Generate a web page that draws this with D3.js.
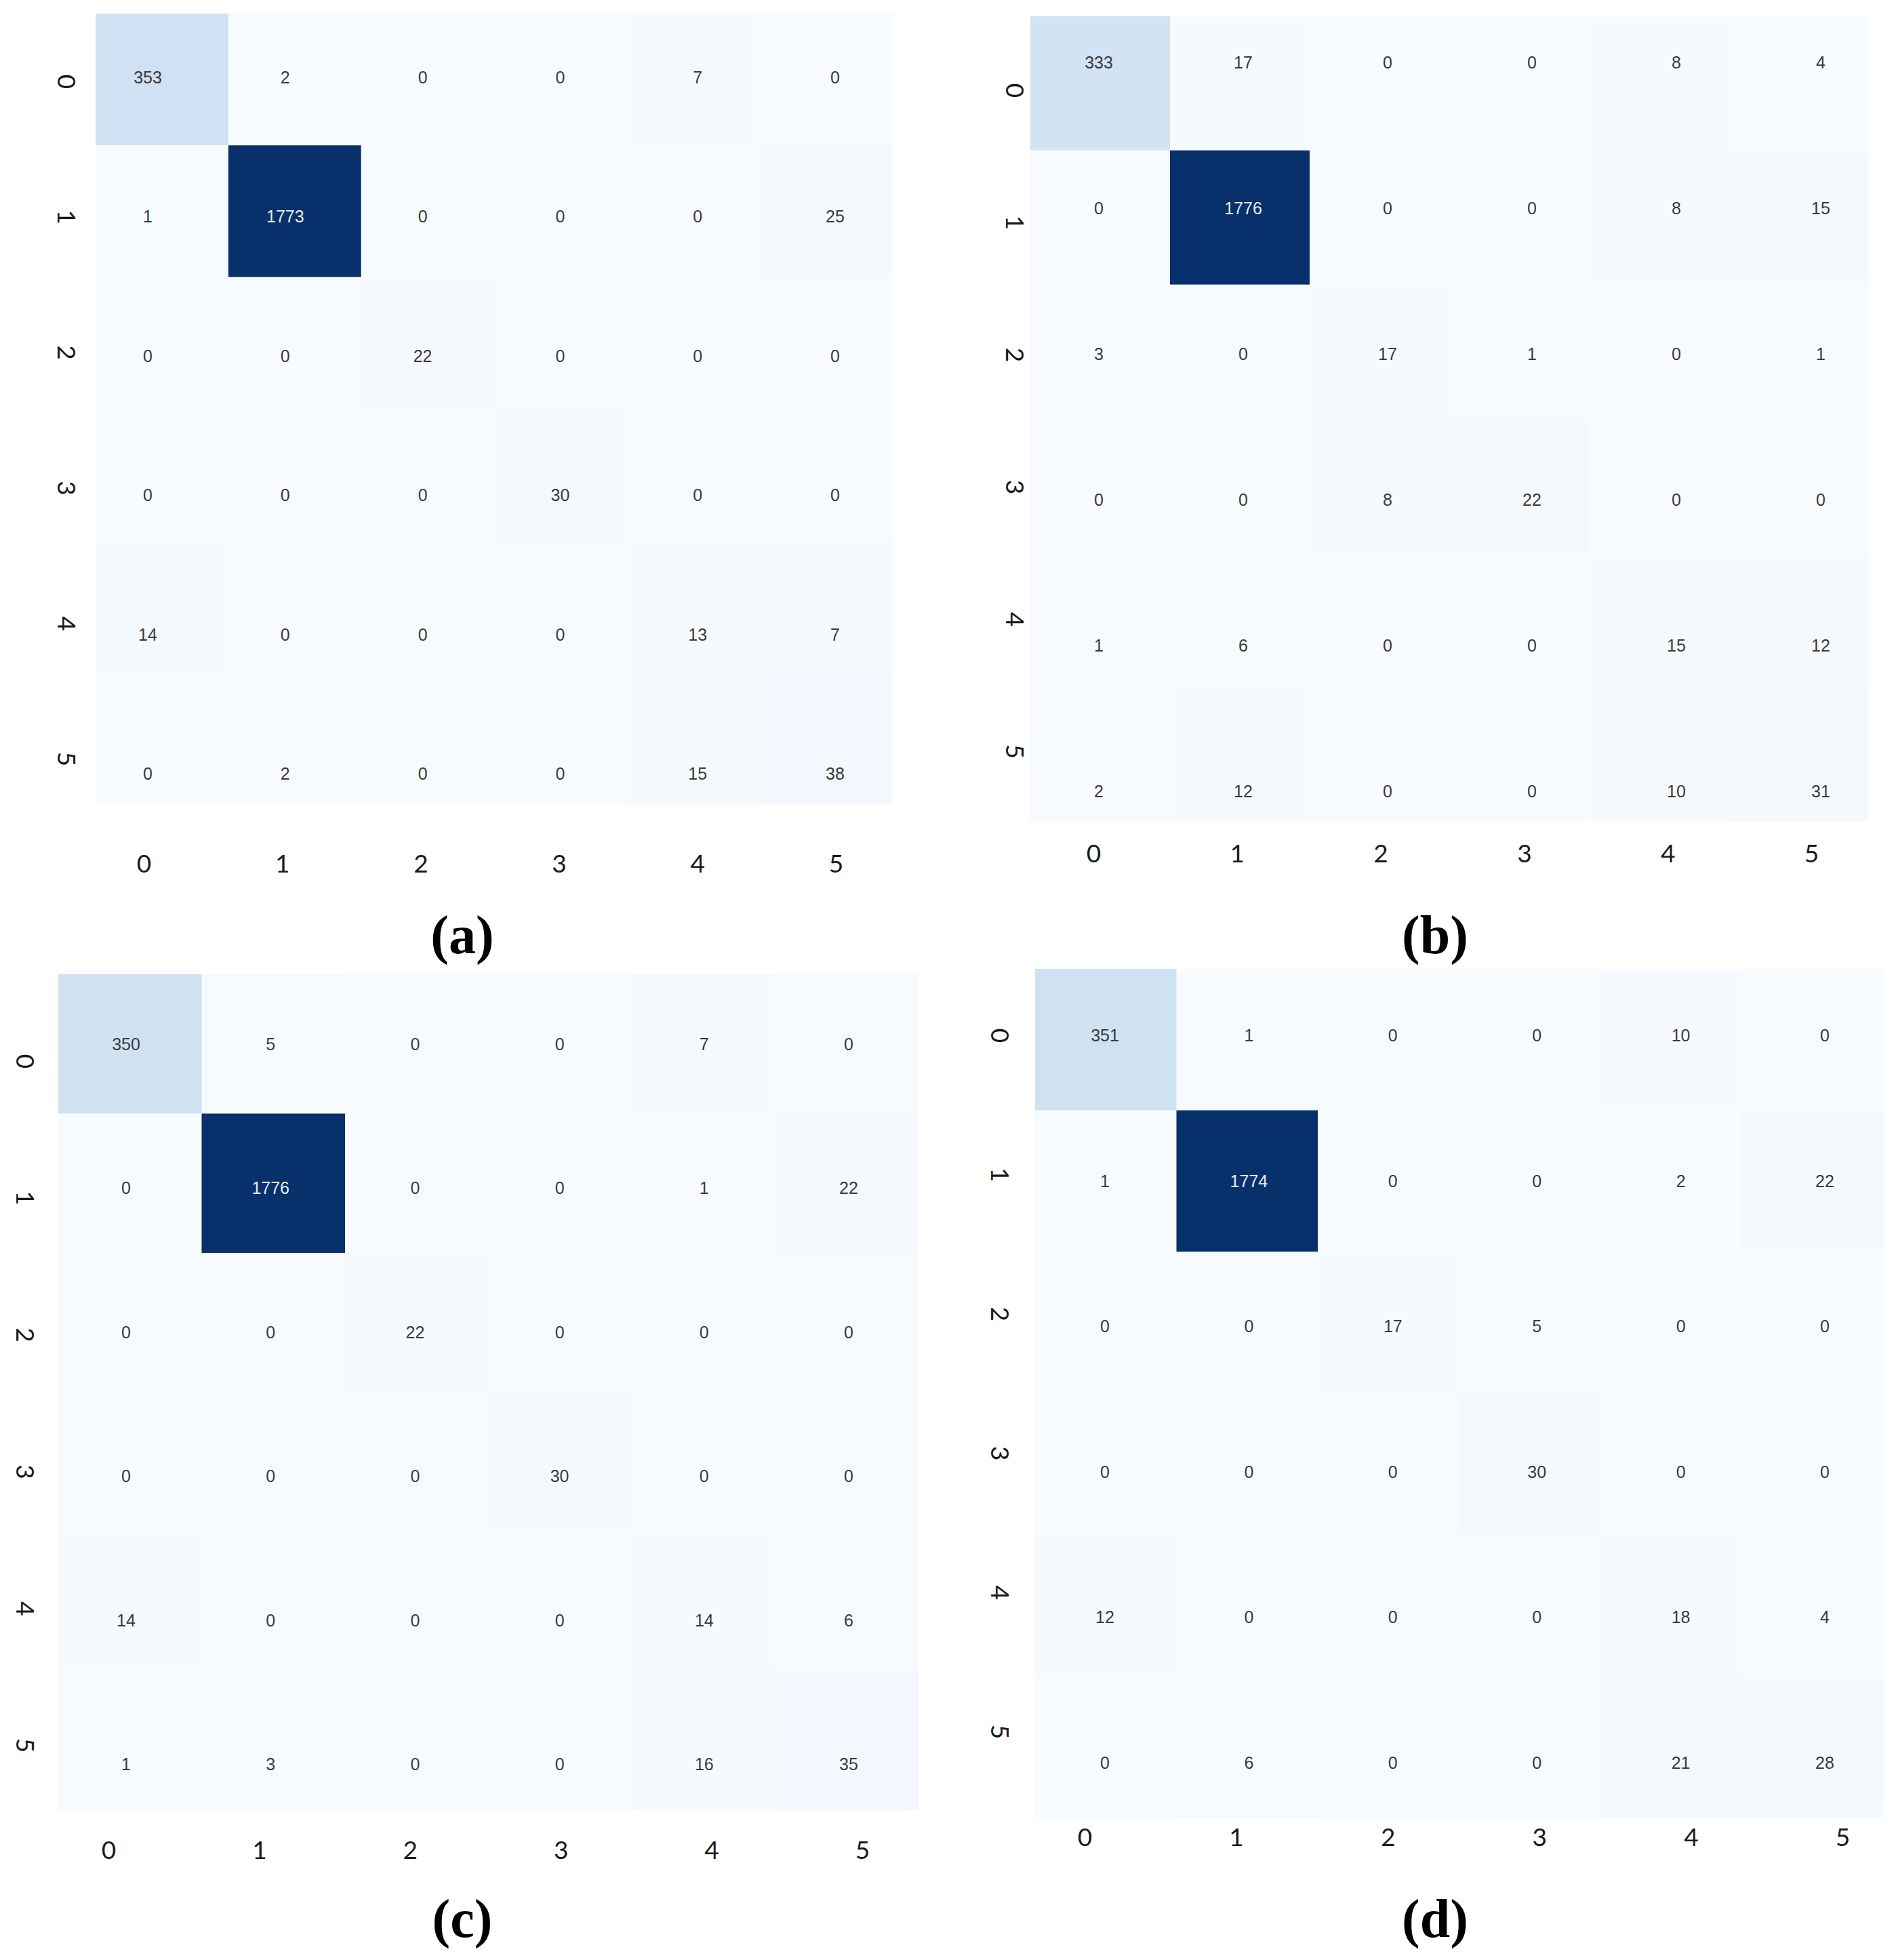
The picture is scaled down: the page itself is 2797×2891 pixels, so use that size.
<!DOCTYPE html>
<html>
<head>
<meta charset="utf-8">
<script src="https://cdn.jsdelivr.net/npm/d3@7"></script>
<style>
  html, body { margin: 0; padding: 0; background: #ffffff; }
  svg { display: block; }
</style>
</head>
<body>
<svg id="chart" width="2797" height="2891"></svg>
<script>
// ---------- DATA ----------
const classLabels = ["0", "1", "2", "3", "4", "5"];
const matrixA = [
  [353, 2, 0, 0, 7, 0],
  [1, 1773, 0, 0, 0, 25],
  [0, 0, 22, 0, 0, 0],
  [0, 0, 0, 30, 0, 0],
  [14, 0, 0, 0, 13, 7],
  [0, 2, 0, 0, 15, 38]
];
const matrixB = [
  [333, 17, 0, 0, 8, 4],
  [0, 1776, 0, 0, 8, 15],
  [3, 0, 17, 1, 0, 1],
  [0, 0, 8, 22, 0, 0],
  [1, 6, 0, 0, 15, 12],
  [2, 12, 0, 0, 10, 31]
];
const matrixC = [
  [350, 5, 0, 0, 7, 0],
  [0, 1776, 0, 0, 1, 22],
  [0, 0, 22, 0, 0, 0],
  [0, 0, 0, 30, 0, 0],
  [14, 0, 0, 0, 14, 6],
  [1, 3, 0, 0, 16, 35]
];
const matrixD = [
  [351, 1, 0, 0, 10, 0],
  [1, 1774, 0, 0, 2, 22],
  [0, 0, 17, 5, 0, 0],
  [0, 0, 0, 30, 0, 0],
  [12, 0, 0, 0, 18, 4],
  [0, 6, 0, 0, 21, 28]
];
const panelCaptions = ["(a)", "(b)", "(c)", "(d)"];
const matrices = [matrixA, matrixB, matrixC, matrixD];

// ---------- LAYOUT (positions only) ----------
const layouts = [
  { cells: {x0: 141, x1: 1316, y0: 20, y1: 1186},
    text:  {x0: 218, x1: 1232, y0: 114, y1: 1141},
    xTick: {x0: 212, x1: 1233, y: 1274},
    yTick: {x: 98, y0: 120, y1: 1119},
    caption: {x: 682, y: 1379} },
  { cells: {x0: 1520, x1: 2756, y0: 24, y1: 1211},
    text:  {x0: 1621, x1: 2686, y0: 92, y1: 1167},
    xTick: {x0: 1613, x1: 2672, y: 1259},
    yTick: {x: 1497, y0: 133, y1: 1108},
    caption: {x: 2117, y: 1379} },
  { cells: {x0: 86, x1: 1355, y0: 1437, y1: 2670},
    text:  {x0: 186, x1: 1252, y0: 1540, y1: 2602},
    xTick: {x0: 160, x1: 1272, y: 2729},
    yTick: {x: 37, y0: 1565, y1: 2574},
    caption: {x: 682, y: 2830} },
  { cells: {x0: 1527, x1: 2778, y0: 1429, y1: 2681},
    text:  {x0: 1630, x1: 2692, y0: 1527, y1: 2600},
    xTick: {x0: 1600, x1: 2718, y: 2710},
    yTick: {x: 1475, y0: 1527, y1: 2554},
    caption: {x: 2117, y: 2830} }
];

const svg = d3.select("#chart");

matrices.forEach((m, pi) => {
  const L = layouts[pi];
  const g = svg.append("g").attr("class", "panel panel-" + pi);

  const x = d3.scaleBand().domain(classLabels).range([L.cells.x0, L.cells.x1]).padding(0);
  const y = d3.scaleBand().domain(classLabels).range([L.cells.y0, L.cells.y1]).padding(0);
  const xText = d3.scalePoint().domain(classLabels).range([L.text.x0, L.text.x1]);
  const yText = d3.scalePoint().domain(classLabels).range([L.text.y0, L.text.y1]);
  const maxV = d3.max(m.flat());
  const color = d3.scaleSequential(d3.interpolateBlues).domain([0, maxV]);

  const cells = [];
  m.forEach((row, r) => row.forEach((v, c) => cells.push({r: classLabels[r], c: classLabels[c], v})));

  g.selectAll("rect.cell").data(cells).join("rect")
    .attr("class", "cell")
    .attr("x", d => x(d.c))
    .attr("y", d => y(d.r))
    .attr("width", x.bandwidth() + 0.5)
    .attr("height", y.bandwidth() + 0.5)
    .attr("fill", d => color(d.v));

  g.selectAll("text.annot").data(cells).join("text")
    .attr("class", "annot")
    .attr("x", d => xText(d.c))
    .attr("y", d => yText(d.r))
    .attr("text-anchor", "middle")
    .attr("dominant-baseline", "central")
    .attr("font-family", "'Liberation Sans', Arial, sans-serif")
    .attr("font-size", 25)
    .attr("fill", d => d.v / maxV > 0.6 ? "#e6ecf5" : "#3a3a3a")
    .text(d => d.v);

  // x tick labels
  const xt = d3.scalePoint().domain(classLabels).range([L.xTick.x0, L.xTick.x1]);
  const xAxis = g.append("g").attr("transform", `translate(0,${L.xTick.y})`)
    .call(d3.axisBottom(xt).tickSize(0).tickPadding(0));
  xAxis.select(".domain").remove();
  xAxis.selectAll("text")
    .attr("y", 0).attr("dy", "0.35em")
    .attr("font-family", "Lato, 'Open Sans', sans-serif")
    .attr("font-size", 37)
    .attr("fill", "#1a1a1a");

  // y tick labels (rotated)
  const yt = d3.scalePoint().domain(classLabels).range([L.yTick.y0, L.yTick.y1]);
  const yAxis = g.append("g").attr("transform", `translate(${L.yTick.x},0)`)
    .call(d3.axisLeft(yt).tickSize(0).tickPadding(0));
  yAxis.select(".domain").remove();
  yAxis.selectAll("text")
    .attr("x", 0).attr("dy", "0.35em")
    .attr("text-anchor", "middle")
    .attr("transform", "rotate(90)")
    .attr("font-family", "Lato, 'Open Sans', sans-serif")
    .attr("font-size", 37)
    .attr("fill", "#1a1a1a");

  // caption
  g.append("text")
    .attr("x", L.caption.x)
    .attr("y", L.caption.y)
    .attr("text-anchor", "middle")
    .attr("dominant-baseline", "central")
    .attr("font-family", "'Liberation Serif', 'Times New Roman', serif")
    .attr("font-weight", "bold")
    .attr("font-size", 80)
    .attr("fill", "#000")
    .text(panelCaptions[pi]);
});
</script>
</body>
</html>
